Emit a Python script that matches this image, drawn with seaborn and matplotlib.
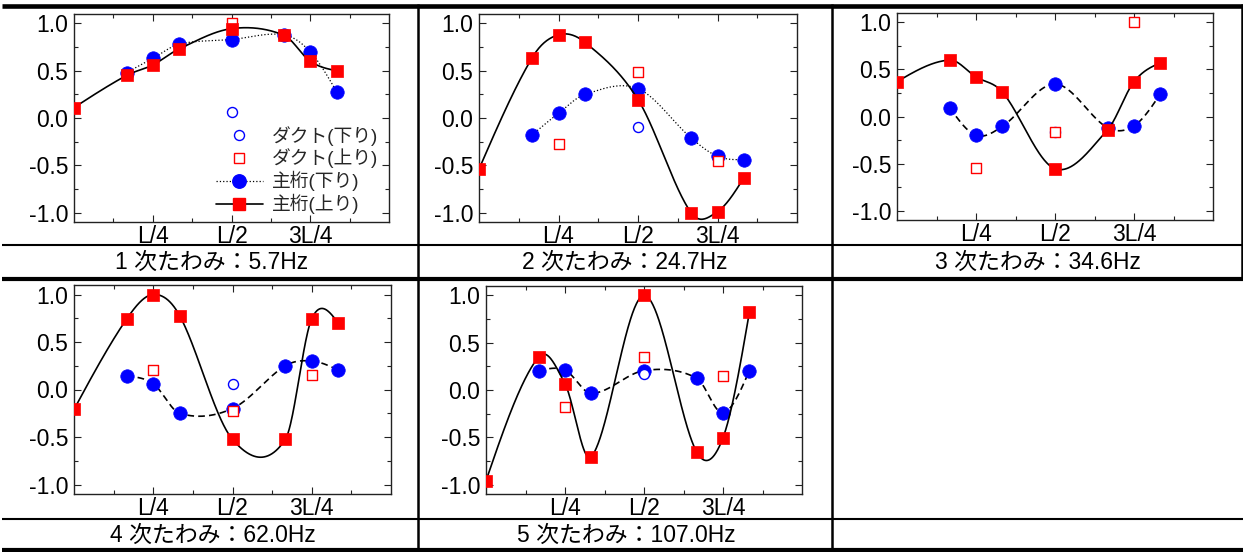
import numpy as np
import pandas as pd
import matplotlib
matplotlib.use("Agg")
import matplotlib.pyplot as plt
import seaborn as sns
from matplotlib.lines import Line2D
from matplotlib.ticker import FixedLocator, MultipleLocator

# ---------------- data ----------------
# measuring positions along the span (fraction of L)
pos_down = [1/6, 1/4, 1/3, 1/2, 2/3, 3/4, 5/6]          # 主桁(下り)
pos_up = [0, 1/6, 1/4, 1/3, 1/2, 2/3, 3/4, 5/6]         # 主桁(上り)

captions = ["1 次たわみ：5.7Hz", "2 次たわみ：24.7Hz", "3 次たわみ：34.6Hz",
            "4 次たわみ：62.0Hz", "5 次たわみ：107.0Hz"]
x_ticks = [0.25, 0.5, 0.75]
x_tick_labels = ["L/4", "L/2", "3L/4"]
y_ticks = [-1.0, -0.5, 0.0, 0.5, 1.0]

girder_down = [
    [0.48, 0.63, 0.78, 0.83, 0.88, 0.70, 0.28],
    [-0.18, 0.05, 0.25, 0.31, -0.21, -0.405, -0.44],
    [0.095, -0.20, -0.105, 0.345, -0.12, -0.10, 0.24],
    [0.14, 0.06, -0.25, -0.20, 0.25, 0.30, 0.205],
    [0.20, 0.21, -0.035, 0.205, 0.125, -0.24, 0.205],
]
girder_up = [
    [0.11, 0.45, 0.56, 0.73, 0.945, 0.875, 0.60, 0.50],
    [-0.54, 0.635, 0.88, 0.80, 0.195, -1.0, -0.99, -0.63],
    [0.37, 0.60, 0.42, 0.26, -0.555, -0.14, 0.37, 0.57],
    [-0.21, 0.745, 1.0, 0.777, -0.525, -0.525, 0.745, 0.70],
    [-0.96, 0.35, 0.065, -0.705, 1.0, -0.655, -0.505, 0.82],
]
duct_down_pos = [[1/2], [1/2], [1/2], [1/2], [1/2]]
duct_down = [[0.063], [-0.10], [-0.17], [0.063], [0.17]]
duct_up_pos = [[1/2], [1/4, 1/2, 3/4], [1/4, 1/2, 3/4], [1/4, 1/2, 3/4], [1/4, 1/2, 3/4]]
duct_up = [[1.0], [-0.28, 0.49, -0.455], [-0.545, -0.165, 1.0],
           [0.205, -0.23, 0.15], [-0.177, 0.345, 0.148]]

legend_labels = ["ダクト(下り)", "ダクト(上り)", "主桁(下り)", "主桁(上り)"]


def smooth_curve(xs, ys, n=400):
    """Catmull-Rom (cubic Hermite) curve through the measured points"""
    x = np.asarray(xs, float)
    y = np.asarray(ys, float)
    k = len(x)
    m = np.zeros(k)
    for i in range(1, k - 1):
        m[i] = (y[i + 1] - y[i - 1]) / (x[i + 1] - x[i - 1])
    m[0] = (3 * (y[1] - y[0]) / (x[1] - x[0]) - m[1]) / 2
    m[-1] = (3 * (y[-1] - y[-2]) / (x[-1] - x[-2]) - m[-2]) / 2
    t = np.linspace(x[0], x[-1], n)
    idx = np.clip(np.searchsorted(x, t) - 1, 0, k - 2)
    h = x[idx + 1] - x[idx]
    s = (t - x[idx]) / h
    h00 = 2 * s**3 - 3 * s**2 + 1
    h10 = s**3 - 2 * s**2 + s
    h01 = -2 * s**3 + 3 * s**2
    h11 = s**3 - s**2
    v = h00 * y[idx] + h10 * h * m[idx] + h01 * y[idx + 1] + h11 * h * m[idx + 1]
    return t, v


# ---------------- style ----------------
sns.set_theme(style="ticks")
plt.rcParams["font.family"] = ["Liberation Sans", "Noto Sans CJK JP"]
plt.rcParams["axes.unicode_minus"] = False

W, H = 1243, 552
fig = plt.figure(figsize=(W / 100, H / 100), dpi=100)
fig.patch.set_facecolor("white")

BLUE = "#0000FF"
RED = "#FF0000"

# axes rectangles in pixels: left, top, right, bottom
rects = [(74, 14, 389, 222), (479, 14, 797, 222), (897, 13, 1213, 220),
         (74, 285, 391, 494), (486, 286, 802, 494)]
blue_styles = [":", ":", (0, (4, 2.5)), (0, (4, 2.5)), (0, (4, 2.5))]
blue_lw = [0.9, 0.9, 1.2, 1.2, 1.2]

for p in range(5):
    l, t, r, b = rects[p]
    ax = fig.add_axes([l / W, 1 - b / H, (r - l) / W, (b - t) / H])
    ax.set_facecolor("white")

    # 主桁(下り) curve + markers
    tx, sy = smooth_curve(pos_down, girder_down[p])
    sns.lineplot(x=tx, y=sy, ax=ax, color="black", lw=blue_lw[p],
                 linestyle=blue_styles[p], estimator=None, sort=False, zorder=2)
    sns.scatterplot(x=pos_down, y=girder_down[p], ax=ax, marker="o", s=94,
                    color=BLUE, edgecolor=BLUE, linewidth=0.5, zorder=3)

    # ダクト markers
    sns.scatterplot(x=duct_down_pos[p], y=duct_down[p], ax=ax, marker="o", s=52,
                    facecolor="white", edgecolor=BLUE, linewidth=1.0, zorder=4)
    sns.scatterplot(x=duct_up_pos[p], y=duct_up[p], ax=ax, marker="s", s=44,
                    facecolor="white", edgecolor=RED, linewidth=1.0, zorder=5)

    # 主桁(上り) curve + markers
    tx, sy = smooth_curve(pos_up, girder_up[p])
    sns.lineplot(x=tx, y=sy, ax=ax, color="black", lw=1.2,
                 estimator=None, sort=False, zorder=6)
    sns.scatterplot(x=pos_up, y=girder_up[p], ax=ax, marker="s", s=80,
                    color=RED, edgecolor=RED, linewidth=0.5, zorder=7)

    ax.set_xlim(0, 1)
    ax.set_ylim(-1.1, 1.1)
    ax.xaxis.set_major_locator(FixedLocator(x_ticks))
    ax.set_xticklabels(x_tick_labels)
    ax.xaxis.set_minor_locator(FixedLocator([0.125, 0.375, 0.625, 0.875]))
    ax.yaxis.set_major_locator(FixedLocator(y_ticks))
    ax.set_yticklabels([f"{v:.1f}" for v in y_ticks])
    ax.yaxis.set_minor_locator(MultipleLocator(0.25))
    ax.tick_params(which="both", direction="in", top=True, right=True,
                   colors="#222222", labelcolor="black")
    ax.tick_params(which="major", length=5, width=0.8, labelsize=16.5, pad=4)
    ax.tick_params(which="minor", length=3, width=0.8)
    ax.tick_params(axis="x", which="major", pad=2)
    for sp in ax.spines.values():
        sp.set_color("#222222")
        sp.set_linewidth(1.0)
    ax.set_xlabel("")
    ax.set_ylabel("")

    if p == 0:
        handles = [
            Line2D([], [], ls="none", marker="o", ms=7.2, mfc="white", mec=BLUE, mew=1.0),
            Line2D([], [], ls="none", marker="s", ms=6.6, mfc="white", mec=RED, mew=1.0),
            Line2D([], [], ls=":", lw=0.9, color="black", marker="o", ms=9.7, mfc=BLUE, mec=BLUE),
            Line2D([], [], ls="-", lw=1.2, color="black", marker="s", ms=8.9, mfc=RED, mec=RED),
        ]
        ax.legend(handles, legend_labels, loc="lower right", bbox_to_anchor=(0.99, 0.0),
                  frameon=False, fontsize=13.5, handlelength=2.5, handletextpad=0.5,
                  labelspacing=0.15, borderaxespad=0.2, borderpad=0.2)

# ---------------- table lines & captions ----------------
def hline(y, lw, x0=2, x1=1243):
    fig.add_artist(Line2D([x0 / W, x1 / W], [1 - y / H, 1 - y / H],
                          transform=fig.transFigure, color="black", lw=lw,
                          solid_capstyle="butt"))

def vline(x, y0, y1, lw=1.8):
    fig.add_artist(Line2D([x / W, x / W], [1 - y0 / H, 1 - y1 / H],
                          transform=fig.transFigure, color="black", lw=lw,
                          solid_capstyle="butt"))

hline(6, 3.3)
hline(245, 1.5)
hline(279, 3.0)
hline(518.5, 1.5)
hline(550, 3.0)
vline(418, 4, 552)
vline(832, 4, 552)
vline(1241.5, 4, 279)

cap_pos = [(212, 262.5), (625, 262.5), (1038, 262.5), (213, 535), (626, 535)]
for (cx, cy), txt in zip(cap_pos, captions):
    fig.text(cx / W, 1 - cy / H, txt, ha="center", va="center", fontsize=16.5,
             color="black")

fig.savefig("out.png", dpi=100, facecolor="white")
